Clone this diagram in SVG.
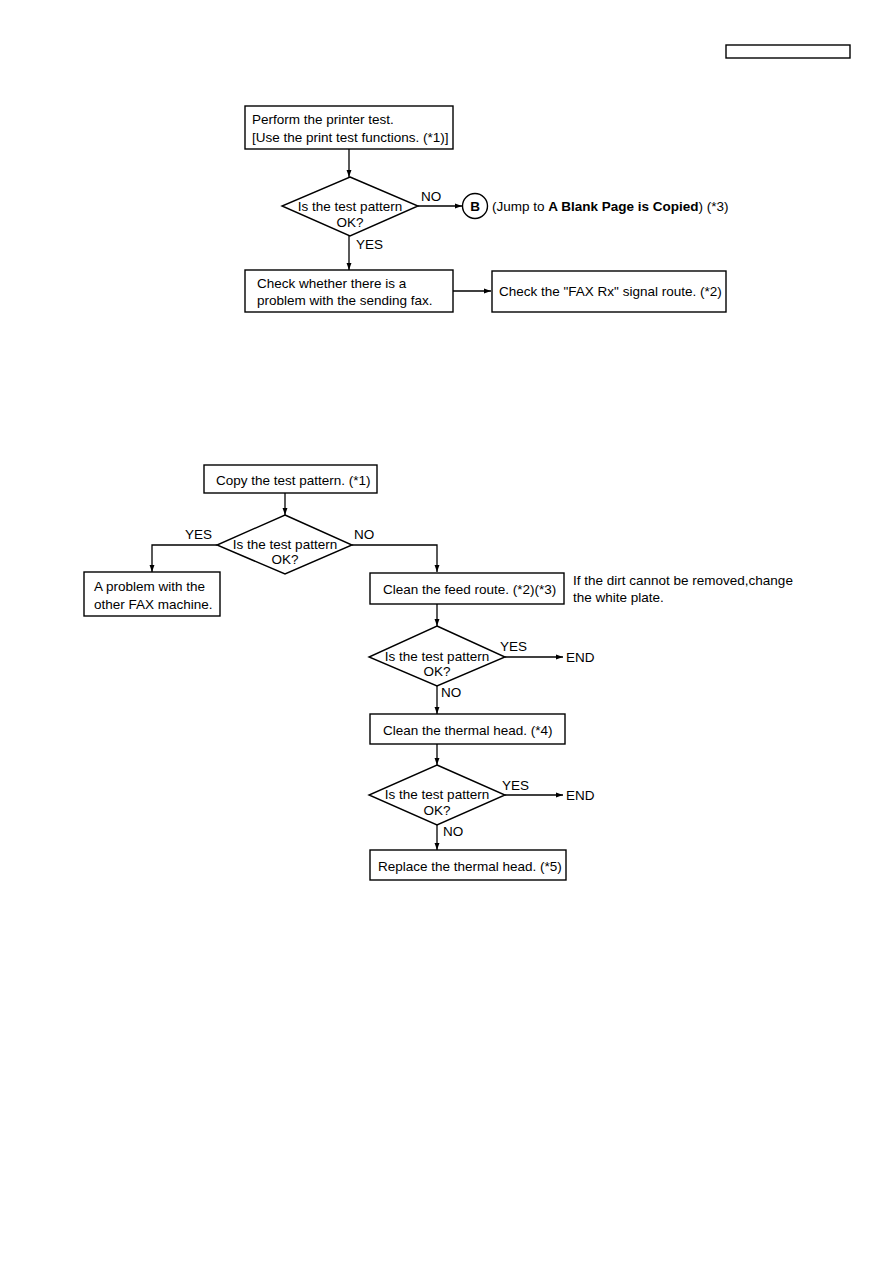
<svg xmlns="http://www.w3.org/2000/svg" width="893" height="1263" viewBox="0 0 893 1263">
<style>
text{font-family:"Liberation Sans",Arial,sans-serif;font-size:13.5px;fill:#000}
.b{fill:#fff;stroke:#000;stroke-width:1.4}
.l{fill:none;stroke:#000;stroke-width:1.3}
.bold{font-weight:bold}
.c{text-anchor:middle}
</style>
<defs>
<marker id="ah" viewBox="0 0 10 10" refX="10" refY="5" markerWidth="7" markerHeight="7" markerUnits="userSpaceOnUse" orient="auto">
<path d="M0,1.5 L10,5 L0,8.5 Z" fill="#000"/>
</marker>
</defs>
<rect x="726" y="45" width="124" height="13" fill="#fff" stroke="#000" stroke-width="1.4"/>

<g id="connectors">
<line class="l" x1="349" y1="149" x2="349" y2="177" marker-end="url(#ah)"/>
<line class="l" x1="418" y1="206" x2="462" y2="206" marker-end="url(#ah)"/>
<line class="l" x1="349" y1="236" x2="349" y2="270" marker-end="url(#ah)"/>
<line class="l" x1="453" y1="291" x2="491" y2="291" marker-end="url(#ah)"/>
<line class="l" x1="285" y1="493" x2="285" y2="515" marker-end="url(#ah)"/>
<polyline class="l" points="217,545 152,545 152,572" marker-end="url(#ah)"/>
<polyline class="l" points="352,545 437,545 437,572" marker-end="url(#ah)"/>
<line class="l" x1="437" y1="604" x2="437" y2="626" marker-end="url(#ah)"/>
<line class="l" x1="505" y1="657" x2="563" y2="657" marker-end="url(#ah)"/>
<line class="l" x1="437" y1="686" x2="437" y2="714" marker-end="url(#ah)"/>
<line class="l" x1="437" y1="744" x2="437" y2="765" marker-end="url(#ah)"/>
<line class="l" x1="505" y1="795" x2="563" y2="795" marker-end="url(#ah)"/>
<line class="l" x1="437" y1="825" x2="437" y2="850" marker-end="url(#ah)"/>
<text x="421" y="201">NO</text>
<text x="356" y="249">YES</text>
<text x="185" y="539">YES</text>
<text x="354" y="539">NO</text>
<text x="500" y="651">YES</text>
<text x="441" y="697">NO</text>
<text x="502" y="790">YES</text>
<text x="443" y="836">NO</text>
</g>

<g id="n1">
<rect class="b" x="245" y="106" width="208" height="43"/>
<text x="252" y="124">Perform the printer test.</text>
<text x="252" y="142">[Use the print test functions. (*1)]</text>
</g>
<g id="d1">
<polygon class="b" points="350,177 418,206 350,236 282,206"/>
<text class="c" x="350" y="211">Is the test pattern</text>
<text class="c" x="350" y="227">OK?</text>
</g>
<g id="nB">
<circle cx="475" cy="206" r="12.5" fill="#fff" stroke="#000" stroke-width="1.4"/>
<text class="c bold" x="475" y="211">B</text>
<text x="492" y="211">(Jump to <tspan class="bold">A Blank Page is Copied</tspan>) (*3)</text>
</g>
<g id="n2">
<rect class="b" x="245" y="270" width="208" height="42"/>
<text x="257" y="288">Check whether there is a</text>
<text x="257" y="305">problem with the sending fax.</text>
</g>
<g id="n3">
<rect class="b" x="492" y="271" width="234" height="41"/>
<text x="499" y="296">Check the "FAX Rx" signal route. (*2)</text>
</g>

<g id="m1">
<rect class="b" x="204" y="465" width="173" height="28"/>
<text x="216" y="485">Copy the test pattern. (*1)</text>
</g>
<g id="md1">
<polygon class="b" points="285,515 352,545 285,574 217,545"/>
<text class="c" x="285" y="549">Is the test pattern</text>
<text class="c" x="285" y="564">OK?</text>
</g>
<g id="m2">
<rect class="b" x="84" y="572" width="136" height="44"/>
<text x="94" y="591">A problem with the</text>
<text x="94" y="609">other FAX machine.</text>
</g>
<g id="m3">
<rect class="b" x="370" y="573" width="194" height="31"/>
<text x="383" y="594">Clean the feed route. (*2)(*3)</text>
<text x="573" y="585">If the dirt cannot be removed,change</text>
<text x="573" y="602">the white plate.</text>
</g>
<g id="md2">
<polygon class="b" points="437,626 505,657 437,686 369,657"/>
<text class="c" x="437" y="661">Is the test pattern</text>
<text class="c" x="437" y="676">OK?</text>
<text x="566" y="662">END</text>
</g>
<g id="m4">
<rect class="b" x="370" y="714" width="195" height="30"/>
<text x="383" y="735">Clean the thermal head. (*4)</text>
</g>
<g id="md3">
<polygon class="b" points="437,765 505,795 437,825 369,795"/>
<text class="c" x="437" y="799">Is the test pattern</text>
<text class="c" x="437" y="815">OK?</text>
<text x="566" y="800">END</text>
</g>
<g id="m5">
<rect class="b" x="370" y="850" width="196" height="30"/>
<text x="378" y="871">Replace the thermal head. (*5)</text>
</g>
</svg>
